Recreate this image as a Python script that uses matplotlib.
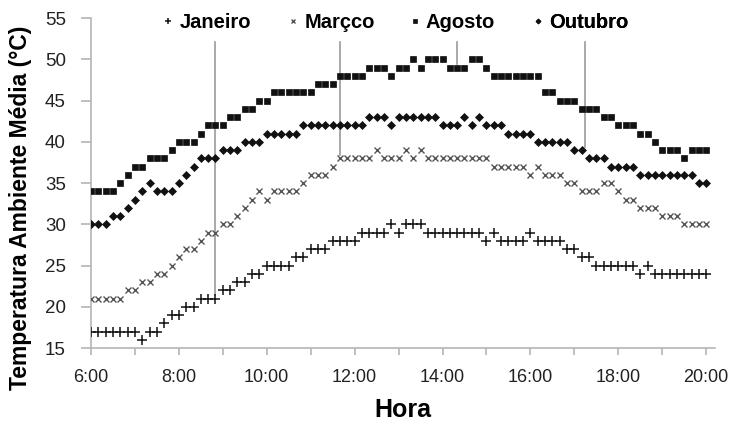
"""
Temperatura ambiente media ao longo do dia (4 meses)
"""

import matplotlib.pyplot as plt
import numpy as np

plt.rcParams["font.family"] = ["Liberation Sans", "DejaVu Sans"]

"""
Dados (leituras de 10 em 10 minutos, 6:00 a 20:00)
"""

janeiro = [
    17, 17, 17, 17, 17, 17, 17, 16, 17, 17, 18, 19, 19, 20, 20, 21, 21, 21,
    22, 22, 23, 23, 24, 24, 25, 25, 25, 25, 26, 26, 27, 27, 27, 28, 28, 28,
    28, 29, 29, 29, 29, 30, 29, 30, 30, 30, 29, 29, 29, 29, 29, 29, 29, 29,
    28, 29, 28, 28, 28, 28, 29, 28, 28, 28, 28, 27, 27, 26, 26, 25, 25, 25,
    25, 25, 25, 24, 25, 24, 24, 24, 24, 24, 24, 24, 24,
]
marco = [
    21, 21, 21, 21, 21, 22, 22, 23, 23, 24, 24, 25, 26, 27, 27, 28, 29, 29,
    30, 30, 31, 32, 33, 34, 33, 34, 34, 34, 34, 35, 36, 36, 36, 37, 38, 38,
    38, 38, 38, 39, 38, 38, 38, 39, 38, 39, 38, 38, 38, 38, 38, 38, 38, 38,
    38, 37, 37, 37, 37, 37, 36, 37, 36, 36, 36, 35, 35, 34, 34, 34, 35, 35,
    34, 33, 33, 32, 32, 32, 31, 31, 31, 30, 30, 30, 30,
]
agosto = [
    34, 34, 34, 34, 35, 36, 37, 37, 38, 38, 38, 39, 40, 40, 40, 41, 42, 42,
    42, 43, 43, 44, 44, 45, 45, 46, 46, 46, 46, 46, 46, 47, 47, 47, 48, 48,
    48, 48, 49, 49, 49, 48, 49, 49, 50, 49, 50, 50, 50, 49, 49, 49, 50, 50,
    49, 48, 48, 48, 48, 48, 48, 48, 46, 46, 45, 45, 45, 44, 44, 44, 43, 43,
    42, 42, 42, 41, 41, 40, 39, 39, 39, 38, 39, 39, 39,
]
outubro = [
    30, 30, 30, 31, 31, 32, 33, 34, 35, 34, 34, 34, 35, 36, 37, 38, 38, 38,
    39, 39, 39, 40, 40, 40, 41, 41, 41, 41, 41, 42, 42, 42, 42, 42, 42, 42,
    42, 42, 43, 43, 43, 42, 43, 43, 43, 43, 43, 43, 42, 42, 42, 43, 42, 43,
    42, 42, 42, 41, 41, 41, 41, 40, 40, 40, 40, 40, 39, 39, 38, 38, 38, 37,
    37, 37, 37, 36, 36, 36, 36, 36, 36, 36, 36, 35, 35,
]

hours = 6 + np.arange(len(janeiro)) / 6

# series: label, values, marker, size, edge width, colour, index of leader line
series = [
    ("Janeiro", janeiro, "+", 7, 1.1, "#111111", 17),
    ("Marçco", marco, "x", 5, 1.0, "#555555", 34),
    ("Agosto", agosto, "s", 5, 0.5, "#111111", 50),
    ("Outubro", outubro, "D", 3.6, 0.5, "#111111", 67.5),
]
# left edge of each legend entry (axes fraction)
legend_x = [0.095, 0.295, 0.49, 0.688]

"""
Figura
"""

fig = plt.figure(figsize=(7.36, 4.23), dpi=100)
ax = fig.add_axes([0.1236, 0.1773, 0.8478, 0.7801])

handles = []
for label, values, marker, ms, mew, color, idx in series:
    (h,) = ax.plot(
        hours, values, linestyle="none", marker=marker, ms=ms, mew=mew,
        color=color, mfc=color, label=label, zorder=5,
    )
    handles.append(h)
    # Leader line from the legend down to the series
    i0 = int(idx)
    t = 6 + idx / 6
    ax.plot([t, t], [values[i0] + 0.4, 52.1], color="#9a9a9a", lw=1.2, zorder=3)

ax.set_xlim(6, 20.2)
ax.set_ylim(15, 55)
ax.set_yticks(np.arange(15, 56, 5))
ticks = np.arange(6, 21, 1)
ax.set_xticks(ticks)
ax.set_xticklabels([f"{t}:00" if t % 2 == 0 else "" for t in ticks])

for side in ["top", "right"]:
    ax.spines[side].set_visible(False)
for side in ["left", "bottom"]:
    ax.spines[side].set_color("#b5b5b5")
    ax.spines[side].set_linewidth(1.2)
ax.tick_params(axis="y", length=7, width=1.2, color="#b5b5b5", pad=11,
               labelsize=13.5, labelcolor="#222222")
ax.tick_params(axis="x", length=5, width=1.2, color="#b5b5b5", pad=10,
               labelsize=13, labelcolor="#222222")

ax.set_ylabel("Temperatura Ambiente Média (°C)", fontsize=16.5, fontweight="bold")
ax.yaxis.set_label_coords(-0.094, 0.424)
ax.set_xlabel("Hora", fontsize=18, fontweight="bold", labelpad=9)

# One legend per entry so they sit evenly spaced like the original
for h, x in zip(handles, legend_x):
    leg = ax.legend(
        handles=[h], loc="center left", bbox_to_anchor=(x, 0.986),
        frameon=False, fontsize=14.5, handlelength=0.8, handletextpad=0.15,
        borderpad=0, markerscale=0.7,
    )
    leg.get_texts()[0].set_fontweight("bold")
    ax.add_artist(leg)

plt.savefig("out.png", dpi=100)
plt.close()
